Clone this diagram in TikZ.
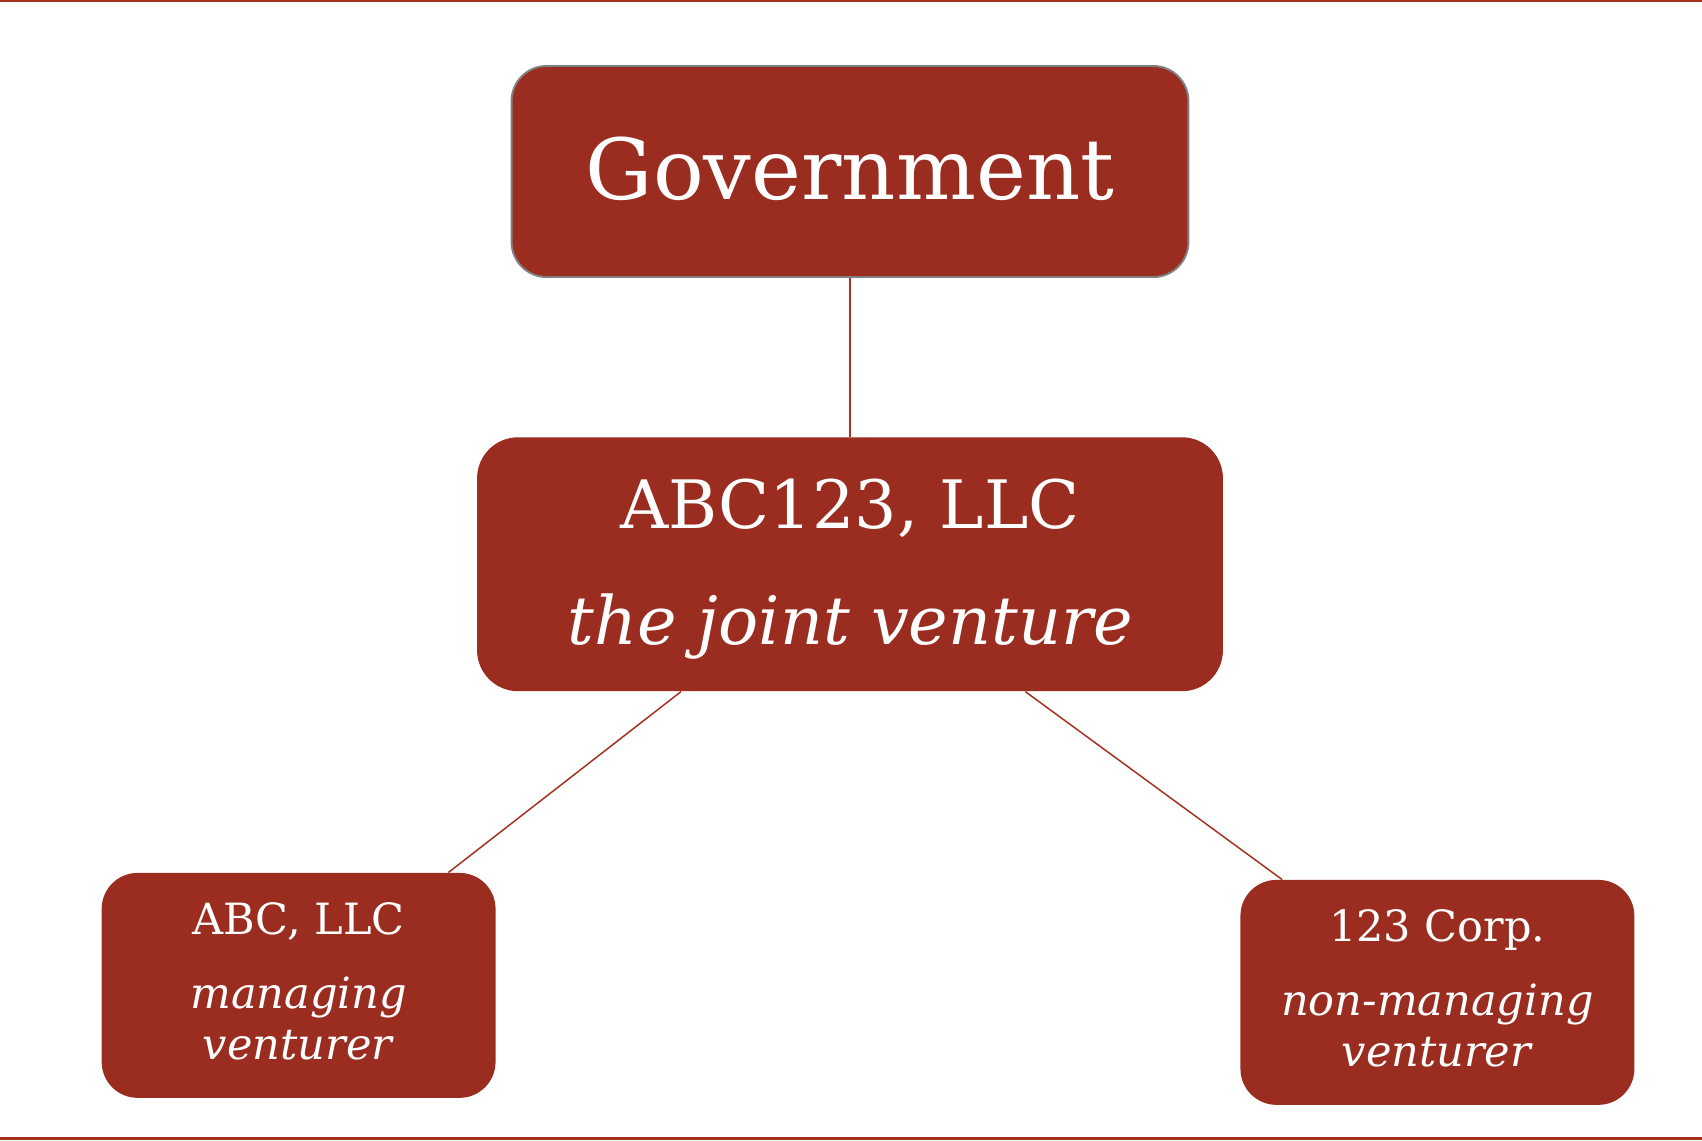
\documentclass[tikz,border=0pt]{standalone}
\usepackage{fontspec}
\setmainfont{DejaVu Serif}
\usepackage{tikz}
\usetikzlibrary{positioning,calc}
\definecolor{rust}{RGB}{154,45,32}
\definecolor{rustline}{RGB}{164,50,30}
% extra depth to lift a label a little inside its box
\newcommand{\lift}[1]{\rule[-#1]{0pt}{#1}}

\begin{document}
\begin{tikzpicture}[x=0.02cm,y=-0.02cm,
	main node/.style={rectangle,fill=rust,text=white,align=center,inner sep=0pt},
	small node/.style={main node,rounded corners=0.72cm,minimum width=7.88cm,minimum height=4.5cm,
		font=\fontsize{24.5}{29}\selectfont},
	link/.style={draw=rustline,line width=0.85pt}]

	\useasboundingbox (0,0) rectangle (1702,1140);
	\draw[rustline,line width=1.4pt] (0,1.2) -- (1702,1.2);
	\draw[rustline,line width=1.4pt] (0,1138.5) -- (1702,1138.5);

	\node[main node,draw=gray,line width=1.1pt,rounded corners=0.7cm,minimum width=13.54cm,
		minimum height=4.22cm,font=\fontsize{48}{56}\selectfont] (G) at (850,171.5) {Government\lift{3.5pt}};
	\node[main node,rounded corners=0.82cm,minimum width=14.92cm,minimum height=5.08cm,
		font=\fontsize{38}{66}\selectfont] (J) [below=3.18cm of G]
		{\rule{0pt}{34pt}ABC123, LLC\\\textit{the joint venture}};
	\node[small node] (A) [below=3.62cm of J,xshift=-11.03cm]
		{ABC, LLC\\[13pt]\textit{managing}\\\textit{venturer}\lift{5pt}};
	\node[small node] (C) [below=3.76cm of J,xshift=11.75cm]
		{123 Corp.\\[13pt]\textit{non-managing}\\\textit{venturer}\lift{5pt}};

	\path[link]
	(G) edge (J)
	(J.-143) edge (A.37)
	(J.-36) edge (C.144);

\end{tikzpicture}
\end{document}
